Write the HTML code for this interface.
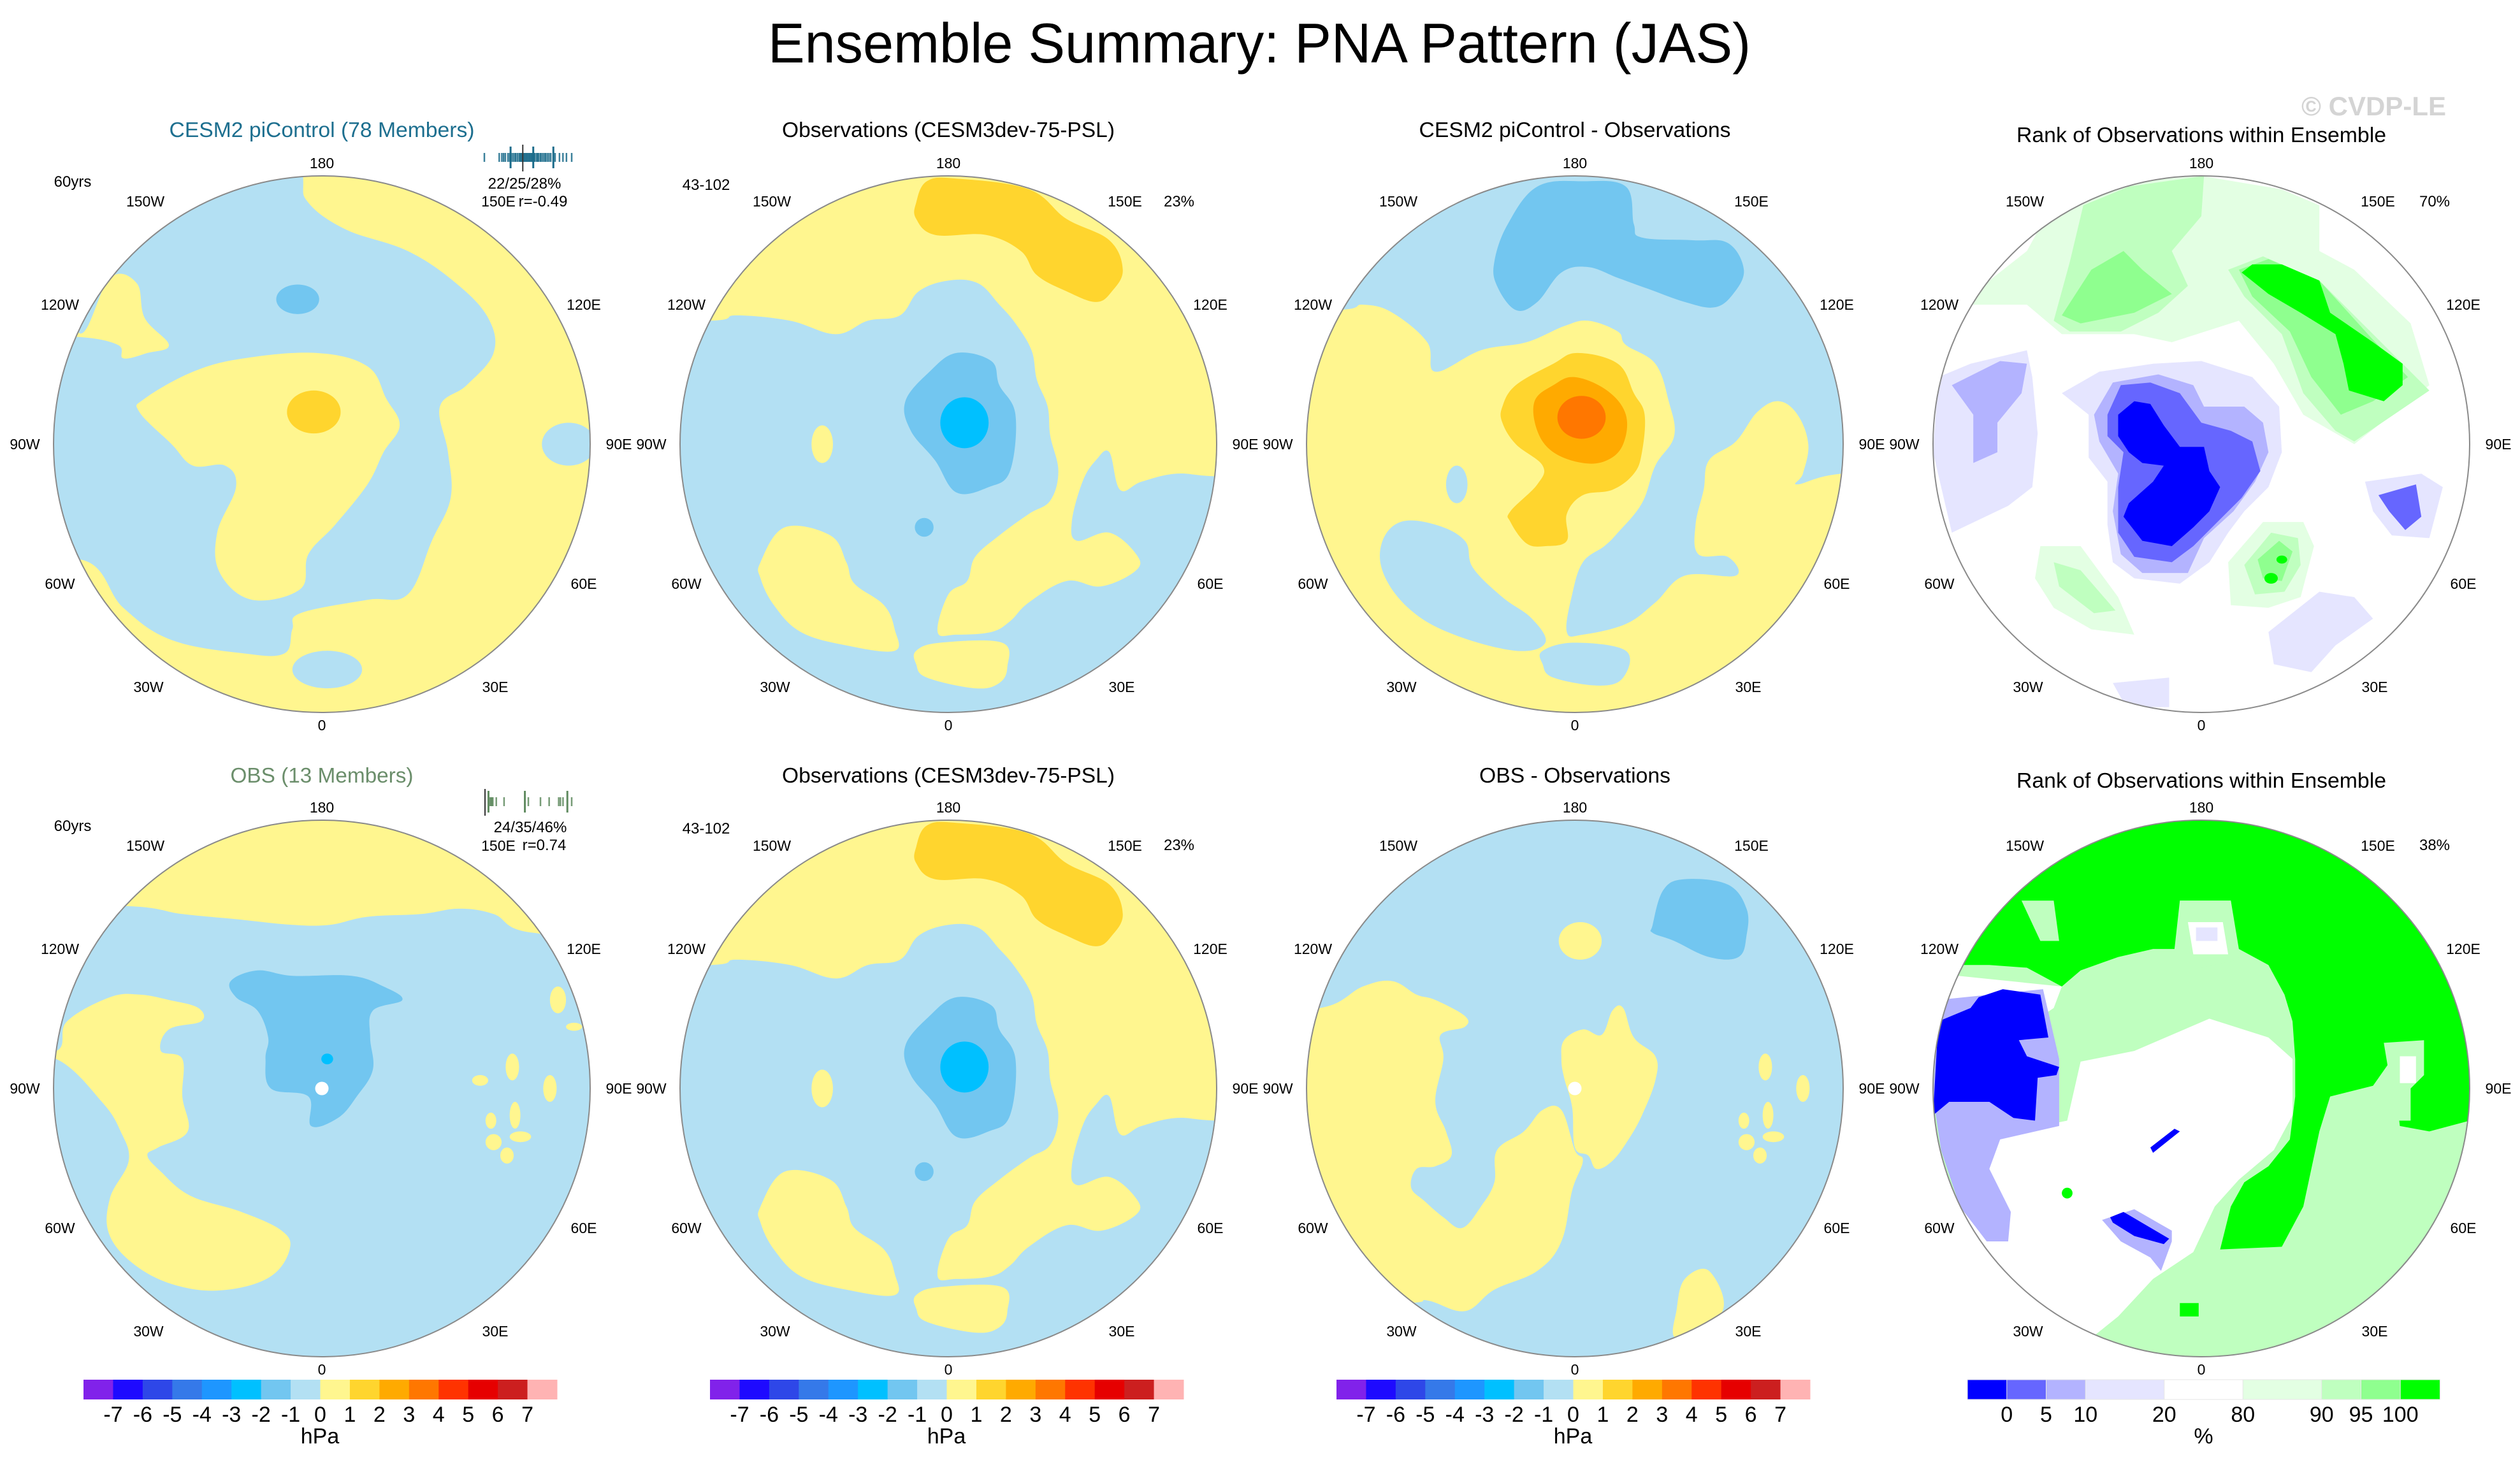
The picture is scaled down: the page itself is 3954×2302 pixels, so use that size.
<!DOCTYPE html>
<html><head><meta charset="utf-8">
<style>
html,body{margin:0;padding:0;background:#fff;}
svg{display:block;font-family:"Liberation Sans",sans-serif;}
</style></head>
<body>
<svg id="fig" xmlns="http://www.w3.org/2000/svg" width="3954" height="2302" viewBox="0 0 3954 2302">
<rect x="0" y="0" width="3954" height="2302" fill="#fff"/>
<text x="1976" y="98" font-size="88" text-anchor="middle" textLength="1542" lengthAdjust="spacingAndGlyphs" fill="#000">Ensemble Summary: PNA Pattern (JAS)</text>
<text x="3838" y="181" font-size="42" font-weight="bold" text-anchor="end" fill="#d4d4d4">© CVDP-LE</text>
</svg>
<script>
// ---------- colour scales (data) ----------
const hpaLabels = ["-7","-6","-5","-4","-3","-2","-1","0","1","2","3","4","5","6","7"];
const hpaColors = ["#8122ea","#1e0aff","#2e47e8","#3579e9","#1e96ff","#00c0ff","#72c6f0","#b3e0f3","#fff68f","#ffd52e","#ffaa00","#ff7700","#ff3300","#e60000","#cc1f1f","#ffb3b3"];
const rankLabels = ["0","5","10","20","80","90","95","100"];
const rankColors = ["#0000ff","#6666ff","#b3b3ff","#e5e5ff","#ffffff","#e3ffe3","#bfffbf","#8fff8f","#00ff00"];
const rankBoxWidths = [1,1,1,2,2,2,1,1,1];
const pal = {lb:"#b3e0f3",y:"#fff68f",g:"#ffd52e",mb:"#72c6f0",c:"#00c0ff",o:"#ffaa00",do:"#ff7700",
  b0:"#0000ff",b5:"#6666ff",b10:"#b3b3ff",b20:"#e5e5ff",w:"#ffffff",g80:"#e3ffe3",g90:"#bfffbf",g95:"#8fff8f",g100:"#00ff00"};

// ---------- ensemble member strips (data) ----------
const piMembers = [0.0,0.17,0.2,0.22,0.24,0.27,0.29,0.31,0.33,0.35,0.36,0.38,0.4,0.41,0.42,0.43,0.44,0.45,0.46,0.47,0.48,0.49,0.5,0.51,0.52,0.53,0.54,0.55,0.56,0.57,0.58,0.6,0.61,0.62,0.64,0.65,0.67,0.69,0.7,0.72,0.74,0.76,0.79,0.81,0.86,0.9,0.94,1.0];
const piPercentiles = [0.3,0.56,0.79];
const piObs = 0.44;
const obsMembers = [0.06,0.07,0.08,0.09,0.13,0.22,0.5,0.64,0.74,0.85,0.87,0.9,1.0];
const obsPercentiles = [0.04,0.46,0.95];
const obsObs = 0.0;

// ---------- map fields (contour regions, unit-disc coordinates) ----------
const mapPI = [
 {c:"y",p:[-.07,-1.0,-.05,-.9,.09,-.8,.32,-.72,.5,-.6,.62,-.47,.64,-.34,.54,-.22,.44,-.14,.47,.03,.48,.2,.41,.36,.32,.56,.17,.58,-.08,.63,-.11,.69,-.14,.78,-.29,.78,-.56,.73,-.74,.61,-.9,.43,-1.3,.5,-1.3,1.3,1.3,1.3,1.3,-1.3,-.07,-1.3]},
 {c:"y",p:[-.29,-.32,-.02,-.34,.17,-.29,.24,-.17,.29,-.07,.23,.03,.17,.15,.05,.3,-.05,.41,-.08,.54,-.26,.58,-.38,.48,-.39,.33,-.32,.16,-.36,.08,-.48,.08,-.56,0,-.68,-.12,-.66,-.17,-.48,-.27]},
 {c:"y",p:[-.91,-.42,-.79,-.62,-.69,-.6,-.66,-.47,-.57,-.37,-.65,-.34,-.74,-.32,-.76,-.37,-.91,-.4,-1.2,-.4,-1.0,-.9]},
 {c:"g",e:[-.03,-.12,.1,.08]},
 {c:"mb",e:[-.09,-.54,.08,.055]},
 {c:"lb",e:[.02,.84,.13,.07]},
 {c:"lb",e:[.92,0,.1,.08]}
];
const mapOBS = [
 {c:"y",p:[-.89,-.46,-.79,-.48,-.59,-.46,-.42,-.41,-.3,-.46,-.18,-.48,-.11,-.57,0,-.61,.11,-.6,.19,-.52,.25,-.45,.31,-.35,.33,-.24,.37,-.14,.38,-.03,.41,.1,.38,.21,.3,.26,.19,.34,.1,.42,.07,.51,0,.56,-.04,.7,.03,.71,.16,.7,.23,.66,.3,.59,.44,.51,.57,.53,.7,.47,.7,.41,.6,.33,.48,.36,.46,.29,.5,.14,.55,.06,.6,.03,.64,.17,.72,.14,.85,.11,1.01,.12,1.4,.12,1.4,-1.4,-1.4,-1.4,-1.4,-.46]},
 {c:"g",p:[-.12,-.9,-.08,-.98,.03,-.99,.3,-.95,.44,-.84,.6,-.76,.65,-.65,.61,-.57,.55,-.53,.44,-.57,.33,-.63,.27,-.72,.14,-.78,-.05,-.78,-.12,-.84]},
 {c:"y",p:[-.7,.44,-.61,.31,-.44,.34,-.38,.44,-.35,.52,-.24,.6,-.2,.69,-.2,.77,-.38,.75,-.55,.7,-.65,.6,-.7,.5]},
 {c:"y",p:[-.12,.77,-.03,.74,.2,.74,.22,.83,.19,.89,.1,.91,-.08,.87,-.12,.82]},
 {c:"y",e:[-.47,0,.04,.07]},
 {c:"mb",p:[-.16,-.16,-.07,-.27,.03,-.34,.16,-.31,.19,-.22,.25,-.11,.23,.1,.15,.16,.03,.18,-.05,.06,-.14,-.05]},
 {c:"c",e:[.06,-.08,.09,.095]},
 {c:"mb",e:[-.09,.31,.035,.035]}
];
const mapDIFF = [
 {c:"lb",p:[-.89,-.5,-.79,-.52,-.68,-.49,-.55,-.38,-.52,-.27,-.35,-.35,-.18,-.38,-.04,-.44,.05,-.46,.16,-.42,.19,-.37,.3,-.3,.35,-.16,.37,-.03,.3,.08,.25,.22,.16,.33,.11,.38,.03,.44,-.01,.56,-.03,.7,.03,.71,.19,.67,.3,.59,.41,.49,.6,.49,.57,.42,.46,.41,.45,.3,.48,.17,.5,.06,.6,-.01,.68,-.12,.76,-.16,.83,-.11,.87,0,.85,.11,.83,.15,1.0,.11,1.4,.11,1.4,-1.4,-1.4,-1.4,-1.4,-.5]},
 {c:"lb",p:[-.72,.37,-.65,.29,-.52,.3,-.41,.36,-.38,.46,-.27,.57,-.16,.65,-.11,.74,-.22,.77,-.45,.71,-.61,.62,-.71,.49]},
 {c:"lb",p:[-.12,.77,0,.74,.19,.77,.18,.87,.09,.9,-.08,.87,-.12,.82]},
 {c:"lb",e:[-.44,.15,.04,.07]},
 {c:"mb",p:[-.3,-.68,-.25,-.82,-.14,-.96,.03,-.98,.19,-.96,.22,-.82,.25,-.77,.44,-.76,.57,-.75,.63,-.65,.59,-.56,.52,-.51,.41,-.53,.27,-.58,.16,-.62,.05,-.66,-.05,-.64,-.14,-.53,-.22,-.5,-.29,-.59]},
 {c:"g",p:[-.27,-.14,-.22,-.22,-.08,-.3,.01,-.34,.16,-.3,.22,-.19,.26,-.11,.25,.03,.22,.11,.14,.17,.03,.19,-.03,.26,-.03,.36,-.11,.38,-.18,.37,-.24,.29,-.24,.25,-.14,.15,-.12,.08,-.22,0,-.27,-.08]},
 {c:"o",p:[-.15,-.16,-.08,-.22,0,-.25,.12,-.2,.19,-.11,.18,0,.12,.06,.03,.07,-.08,.03,-.14,-.05]},
 {c:"do",e:[.025,-.1,.09,.08]}
];
const mapOBS2 = [
 {c:"y",p:[-.73,-.68,-.52,-.65,-.31,-.63,-.11,-.61,.03,-.61,.17,-.64,.37,-.65,.51,-.67,.64,-.65,.79,-.58,1.3,-.58,1.3,-1.4,-1.3,-1.4,-1.3,-.68]},
 {c:"y",p:[-1.2,-.14,-.99,-.14,-.95,-.25,-.79,-.34,-.68,-.35,-.57,-.33,-.46,-.3,-.45,-.25,-.57,-.22,-.6,-.14,-.52,-.11,-.52,.03,-.5,.16,-.61,.22,-.65,.25,-.6,.31,-.49,.4,-.3,.46,-.15,.53,-.12,.6,-.19,.7,-.35,.75,-.52,.74,-.68,.67,-.79,.55,-.79,.41,-.72,.27,-.75,.16,-.82,.05,-.99,-.11,-1.2,-.12]},
 {c:"mb",p:[-.34,-.4,-.24,-.44,-.11,-.42,.11,-.42,.23,-.38,.3,-.33,.19,-.29,.18,-.19,.19,-.07,.13,.03,.06,.11,-.04,.14,-.05,.03,-.19,0,-.21,-.11,-.2,-.19,-.24,-.29,-.32,-.34]},
 {c:"c",e:[.02,-.11,.022,.02]},
 {c:"w",e:[0,0,.025,.025]},
 {c:"y",e:[.71,-.08,.025,.05]},{c:"y",e:[.85,0,.025,.05]},{c:"y",e:[.72,.1,.02,.05]},
 {c:"y",e:[.63,.12,.02,.03]},{c:"y",e:[.64,.2,.03,.03]},{c:"y",e:[.74,.18,.04,.02]},
 {c:"y",e:[.69,.25,.025,.03]},{c:"y",e:[.59,-.03,.03,.02]},{c:"y",e:[.88,-.33,.03,.05]},{c:"y",e:[.94,-.23,.03,.015]}
];
const mapDIFF2 = [
 {c:"y",p:[-1.3,-.3,-.95,-.3,-.79,-.38,-.68,-.4,-.59,-.35,-.52,-.33,-.41,-.27,-.41,-.23,-.5,-.2,-.49,-.11,-.52,.05,-.48,.16,-.46,.25,-.52,.29,-.59,.3,-.61,.37,-.56,.42,-.49,.48,-.42,.52,-.35,.44,-.3,.35,-.29,.23,-.19,.16,-.12,.08,-.05,.08,0,.23,.03,.27,-.01,.38,-.05,.57,-.14,.68,-.3,.75,-.41,.83,-.55,.79,-.65,.8,-1.3,.8]},
 {c:"y",p:[-.04,-.18,.03,-.22,.1,-.2,.14,-.29,.18,-.3,.22,-.19,.3,-.12,.3,-.03,.25,.1,.2,.19,.14,.27,.08,.3,.05,.25,0,.22,-.01,.07,-.04,-.04,-.05,-.11]},
 {c:"y",e:[.02,-.55,.08,.07]},
 {c:"w",e:[0,0,.025,.025]},
 {c:"mb",p:[.29,-.61,.33,-.74,.41,-.78,.57,-.76,.64,-.67,.64,-.57,.61,-.49,.5,-.49,.37,-.55,.29,-.58]},
 {c:"y",p:[.41,.71,.5,.68,.55,.83,.38,.93,.38,.82]},
 {c:"y",e:[.71,-.08,.025,.05]},{c:"y",e:[.85,0,.025,.05]},{c:"y",e:[.72,.1,.02,.05]},
 {c:"y",e:[.63,.12,.02,.03]},{c:"y",e:[.64,.2,.03,.03]},{c:"y",e:[.74,.18,.04,.02]},{c:"y",e:[.69,.25,.025,.03]}
];
const mapRANK1 = [
 {c:"g80",p:[-.89,-.52,-.79,-.61,-.65,-.72,-.59,-.83,-.41,-.94,-.25,-.98,0,-1.0,.3,-.95,.44,-.89,.44,-.72,.57,-.65,.78,-.45,.85,-.22,.57,0,.38,-.11,.27,-.3,.14,-.46,-.11,-.38,-.25,-.41,-.52,-.41,-.65,-.52,-.79,-.52]},
 {c:"g90",p:[-.55,-.46,-.49,-.68,-.44,-.89,-.27,-.96,.01,-1.0,0,-.85,-.11,-.72,-.05,-.59,-.16,-.49,-.3,-.42,-.49,-.42]},
 {c:"g95",p:[-.52,-.48,-.41,-.65,-.29,-.72,-.22,-.65,-.11,-.56,-.25,-.49,-.45,-.45]},
 {c:"g90",p:[.1,-.65,.23,-.7,.44,-.61,.64,-.41,.85,-.2,.57,-.01,.5,-.05,.38,-.19,.3,-.41,.16,-.55]},
 {c:"g95",p:[.14,-.65,.25,-.69,.44,-.61,.63,-.4,.77,-.25,.64,-.16,.52,-.11,.41,-.25,.33,-.42,.19,-.55]},
 {c:"g100",p:[.15,-.64,.19,-.67,.3,-.67,.44,-.61,.48,-.49,.64,-.38,.75,-.3,.75,-.22,.68,-.16,.55,-.2,.53,-.3,.5,-.41,.37,-.49,.25,-.56]},
 {c:"b20",p:[-.52,-.19,-.38,-.27,-.18,-.3,0,-.31,.19,-.25,.29,-.14,.3,.03,.25,.16,.16,.25,.1,.33,.03,.44,-.08,.52,-.25,.5,-.33,.44,-.35,.3,-.35,.14,-.42,.05,-.42,-.11]},
 {c:"b10",p:[-.4,-.11,-.33,-.23,-.16,-.26,-.03,-.22,.01,-.14,.16,-.14,.23,-.08,.25,.03,.2,.14,.12,.25,.01,.35,-.05,.48,-.22,.48,-.3,.41,-.33,.25,-.31,.11,-.38,-.01]},
 {c:"b5",p:[-.35,-.11,-.3,-.22,-.19,-.23,-.08,-.19,0,-.08,.11,-.05,.19,-.01,.22,.1,.15,.2,.05,.3,-.03,.38,-.11,.44,-.25,.42,-.31,.33,-.31,.16,-.29,.03,-.35,-.03]},
 {c:"b0",p:[-.31,-.11,-.25,-.16,-.19,-.15,-.14,-.07,-.08,.01,.01,.01,.03,.1,.07,.16,.03,.25,-.03,.31,-.11,.38,-.22,.36,-.29,.27,-.27,.22,-.18,.14,-.14,.08,-.22,.07,-.27,.03,-.31,-.03]},
 {c:"b20",p:[-.98,-.25,-.86,-.3,-.65,-.35,-.63,-.25,-.61,-.04,-.63,.16,-.72,.23,-.93,.33,-1.0,.03]},
 {c:"b10",p:[-.93,-.22,-.75,-.31,-.65,-.3,-.67,-.19,-.76,-.08,-.76,.03,-.85,.07,-.85,-.11]},
 {c:"g80",p:[-.6,.38,-.45,.38,-.31,.57,-.25,.71,-.41,.69,-.55,.61,-.62,.5]},
 {c:"g90",p:[-.55,.44,-.45,.47,-.32,.62,-.4,.63,-.53,.53]},
 {c:"g80",p:[.1,.44,.23,.29,.38,.29,.42,.38,.37,.57,.25,.61,.11,.6]},
 {c:"g90",p:[.16,.45,.26,.33,.36,.35,.37,.45,.31,.55,.2,.56]},
 {c:"g95",p:[.21,.43,.29,.36,.34,.4,.3,.51,.23,.5]},
 {c:"g100",e:[.26,.5,.025,.02]},{c:"g100",e:[.3,.43,.02,.015]},
 {c:"b20",p:[.25,.7,.44,.55,.57,.57,.64,.65,.5,.75,.41,.85,.27,.82]},
 {c:"b20",p:[-.33,.89,-.12,.87,-.12,.98,-.28,.98]},
 {c:"b20",p:[.61,.14,.82,.11,.9,.16,.85,.35,.71,.34,.64,.25]},
 {c:"b5",p:[.66,.19,.8,.15,.82,.27,.76,.32,.7,.25]}
];
const mapRANK2 = [
 {c:"g90",p:[-1.3,-1.3,1.3,-1.3,1.3,1.3,-1.3,1.3]},
 {c:"w",p:[-.45,-.1,-.25,-.14,.03,-.26,.25,-.19,.34,-.11,.34,.1,.27,.23,.14,.34,.05,.44,-.03,.61,-.18,.71,-.31,.85,-.41,.93,-.65,.82,-.86,.55,-.98,.12,-.7,.16,-.5,.12]},
 {c:"w",p:[-1.3,-.46,-.52,-.38,-.55,-.3,-.7,-.2,-1.3,-.2]},
 {c:"g100",p:[-1.3,-.46,-.89,-.46,-.79,-.46,-.65,-.45,-.52,-.38,-.45,-.44,-.31,-.49,-.18,-.52,-.1,-.52,-.08,-.7,.11,-.7,.14,-.52,.25,-.46,.31,-.35,.34,-.25,.35,-.11,.35,.03,.33,.19,.25,.29,.16,.35,.11,.44,.07,.6,.3,.59,.38,.44,.41,.3,.44,.16,.48,.03,.64,-.01,.71,-.11,.74,.14,.85,.16,1.0,.12,1.3,.12,1.3,-1.3,-1.3,-1.3]},
 {c:"g90",p:[-.08,-.7,.11,-.7,.14,-.48,0,-.45,-.04,-.49]},
 {c:"w",p:[-.05,-.62,.08,-.62,.1,-.5,-.03,-.5]},
 {c:"b20",p:[-.02,-.6,.06,-.6,.06,-.55,-.02,-.55]},
 {c:"g90",p:[-.67,-.7,-.55,-.7,-.53,-.55,-.6,-.55]},
 {c:"g90",p:[.68,-.17,.83,-.18,.83,-.05,.78,0,.78,.12,.72,.12,.7,-.05]},
 {c:"w",p:[.74,-.12,.8,-.12,.8,-.02,.74,-.02]},
 {c:"b10",p:[-.98,-.33,-.59,-.37,-.53,-.11,-.53,.14,-.75,.19,-.79,.3,-.71,.46,-.72,.57,-.8,.57,-.9,.44,-.97,.23,-1.0,.03]},
 {c:"b0",p:[-.98,-.25,-.86,-.3,-.83,-.34,-.74,-.37,-.6,-.35,-.57,-.19,-.68,-.18,-.65,-.12,-.53,-.08,-.54,-.05,-.61,-.04,-.62,.12,-.7,.11,-.79,.05,-.94,.05,-1.0,.1]},
 {c:"b10",p:[-.37,.49,-.25,.45,-.11,.53,-.11,.57,-.15,.68,-.19,.63,-.3,.57]},
 {c:"b0",p:[-.34,.48,-.29,.46,-.12,.56,-.14,.58,-.25,.55,-.33,.5]},
 {c:"b0",p:[-.19,.22,-.1,.15,-.08,.16,-.18,.24]},
 {c:"g100",e:[-.5,.39,.02,.02]},
 {c:"g100",p:[-.08,.8,-.01,.8,-.01,.85,-.08,.85]}
];

// ---------- layout ----------
const NS = "http://www.w3.org/2000/svg";
const svg = document.getElementById("fig");
const colX = [505,1488,2471,3454];
const rowY = [697,1708];
const R = 421;
function el(tag, attrs, parent){
  const e = document.createElementNS(NS, tag);
  for (const k in attrs) e.setAttribute(k, attrs[k]);
  (parent||svg).appendChild(e);
  return e;
}
function txt(s, x, y, size, opts, parent){
  const t = el("text", Object.assign({x:x, y:y, "font-size":size, "text-anchor":"middle", fill:"#000"}, opts||{}), parent);
  t.textContent = s;
  return t;
}
function smoothPath(pts, cx, cy){
  const P = [];
  for (let i=0;i<pts.length;i+=2) P.push([cx+pts[i]*R, cy+pts[i+1]*R]);
  const n = P.length; let d = "M"+P[0][0].toFixed(1)+","+P[0][1].toFixed(1);
  for (let i=0;i<n;i++){
    const p0=P[(i-1+n)%n], p1=P[i], p2=P[(i+1)%n], p3=P[(i+2)%n];
    const t=0.18;
    const c1=[p1[0]+(p2[0]-p0[0])*t, p1[1]+(p2[1]-p0[1])*t];
    const c2=[p2[0]-(p3[0]-p1[0])*t, p2[1]-(p3[1]-p1[1])*t];
    d+=" C"+c1[0].toFixed(1)+","+c1[1].toFixed(1)+" "+c2[0].toFixed(1)+","+c2[1].toFixed(1)+" "+p2[0].toFixed(1)+","+p2[1].toFixed(1);
  }
  return d+"Z";
}
function polyPath(pts, cx, cy){
  let d="";
  for (let i=0;i<pts.length;i+=2) d+=(i?"L":"M")+(cx+pts[i]*R).toFixed(1)+","+(cy+pts[i+1]*R).toFixed(1);
  return d+"Z";
}
let clipId = 0;
function drawMap(cx, cy, bg, regions, smooth, name){
  clipId++;
  const defs = el("defs", {});
  const cp = el("clipPath", {id:"clip"+clipId}, defs);
  el("circle", {cx:cx, cy:cy, r:R}, cp);
  const g = el("g", {"clip-path":"url(#clip"+clipId+")"});
  
  
  el("rect", {x:cx-R-5, y:cy-R-5, width:2*R+10, height:2*R+10, fill:pal[bg]}, g);
  regions.forEach(function(r){
    let m;
    if (r.e) m = el("ellipse", {cx:cx+r.e[0]*R, cy:cy+r.e[1]*R, rx:r.e[2]*R, ry:r.e[3]*R, fill:pal[r.c]}, g);
    else m = el("path", {d: smooth ? smoothPath(r.p,cx,cy) : polyPath(r.p,cx,cy), fill:pal[r.c]}, g);
    
    
  });
  const o = el("circle", {cx:cx, cy:cy, r:R, fill:"none", stroke:"#8a8a8a", "stroke-width":2});
  
  
  const lons = [["180",0,-441],["150W",-277,-381],["150E",277,-381],["120W",-411,-219],["120E",411,-219],
    ["90W",-466,0],["90E",466,0],["60W",-411,219],["60E",411,219],["30W",-272,381],["30E",272,381],["0",0,441]];
  lons.forEach(function(l){
    const t = txt(l[0], cx+l[1], cy+l[2]+8, 23);
    
    
  });
}

const panels = [
  {col:0,row:0,bg:"lb",map:mapPI,smooth:true,title:"CESM2 piControl (78 Members)",tl:479,color:"#1d6f8f"},
  {col:1,row:0,bg:"lb",map:mapOBS,smooth:true,title:"Observations (CESM3dev-75-PSL)",tl:522,color:"#000"},
  {col:2,row:0,bg:"y",map:mapDIFF,smooth:true,title:"CESM2 piControl - Observations",tl:489,color:"#000"},
  {col:3,row:0,bg:"w",map:mapRANK1,smooth:false,title:"Rank of Observations within Ensemble",tl:580,color:"#000",rank:true},
  {col:0,row:1,bg:"lb",map:mapOBS2,smooth:true,title:"OBS (13 Members)",tl:287,color:"#6b8e6b"},
  {col:1,row:1,bg:"lb",map:mapOBS,smooth:true,title:"Observations (CESM3dev-75-PSL)",tl:522,color:"#000"},
  {col:2,row:1,bg:"lb",map:mapDIFF2,smooth:true,title:"OBS - Observations",tl:300,color:"#000"},
  {col:3,row:1,bg:"w",map:mapRANK2,smooth:false,title:"Rank of Observations within Ensemble",tl:580,color:"#000",rank:true}
];
panels.forEach(function(p){
  const cx = colX[p.col], cy = rowY[p.row];
  drawMap(cx, cy, p.bg, p.map, p.smooth, "map-panel-"+p.col+"-"+p.row);
  const ty = cy - (p.rank ? 474 : 482) + (p.row ? 2 : 0);
  const t = txt(p.title, cx, ty, 33, {fill:p.color, textLength:p.tl, lengthAdjust:"spacingAndGlyphs"});
  
  
});

const notes = [
  ["60yrs",114,293],["22/25/28%",823,296],["r=-0.49",852,324],
  ["43-102",1108,298],["23%",1850,324],["70%",3820,324],
  ["60yrs",114,1304],["24/35/46%",832,1306],["r=0.74",854,1334],
  ["43-102",1108,1308],["23%",1850,1334],["38%",3820,1334]
];
notes.forEach(function(n){
  const t = txt(n[0], n[1], n[2], 24);
  
  
});

function strip(members, pct, obs, x0, x1, yMid, col, name){
  const g = el("g", {});
  
  
  const sx = function(v){ return x0 + v*(x1-x0); };
  members.forEach(function(m){
    const l = el("line", {x1:sx(m), x2:sx(m), y1:yMid-7, y2:yMid+7, stroke:col, "stroke-width":2.5, opacity:0.85}, g);
    
    
  });
  pct.forEach(function(m){
    const l = el("line", {x1:sx(m), x2:sx(m), y1:yMid-17, y2:yMid+17, stroke:col, "stroke-width":3}, g);
    
    
  });
  const l = el("line", {x1:sx(obs), x2:sx(obs), y1:yMid-20, y2:yMid+22, stroke:"#333", "stroke-width":2}, g);
  
  
}
strip(piMembers, piPercentiles, piObs, 760, 897, 247, "#1a6b8a", "pi-member-strip");
strip(obsMembers, obsPercentiles, obsObs, 761, 897, 1258, "#5f8a5f", "obs-member-strip");

function hpaBar(x0, name){
  const g = el("g", {});
  
  
  const w = 743/hpaColors.length;
  hpaColors.forEach(function(c,i){
    const r = el("rect", {x:x0+i*w, y:2165, width:w+0.5, height:31, fill:c}, g);
    
    
  });
  hpaLabels.forEach(function(s,i){
    const t = txt(s, x0+(i+1)*w, 2231, 34, {}, g);
    
    
  });
  const u = txt("hPa", x0+371, 2265, 34, {}, g);
  
  
}
hpaBar(131, "colorbar-col1");
hpaBar(1114, "colorbar-col2");
hpaBar(2097, "colorbar-col3");
(function(){
  const g = el("g", {});
  
  
  const total = rankBoxWidths.reduce(function(a,b){return a+b;},0);
  const x0 = 3087, W = 741;
  let x = x0; const edges = [];
  rankColors.forEach(function(c,i){
    const w = W*rankBoxWidths[i]/total;
    const r = el("rect", {x:x, y:2165, width:w+0.5, height:31, fill:c, stroke:"#e6e6e6", "stroke-width":1}, g);
    
    
    x += w; edges.push(x);
  });
  rankLabels.forEach(function(s,i){
    const t = txt(s, edges[i], 2231, 34, {}, g);
    
    
  });
  const u = txt("%", x0+W/2, 2265, 34, {}, g);
  
  
})();
</script>
</body></html>
